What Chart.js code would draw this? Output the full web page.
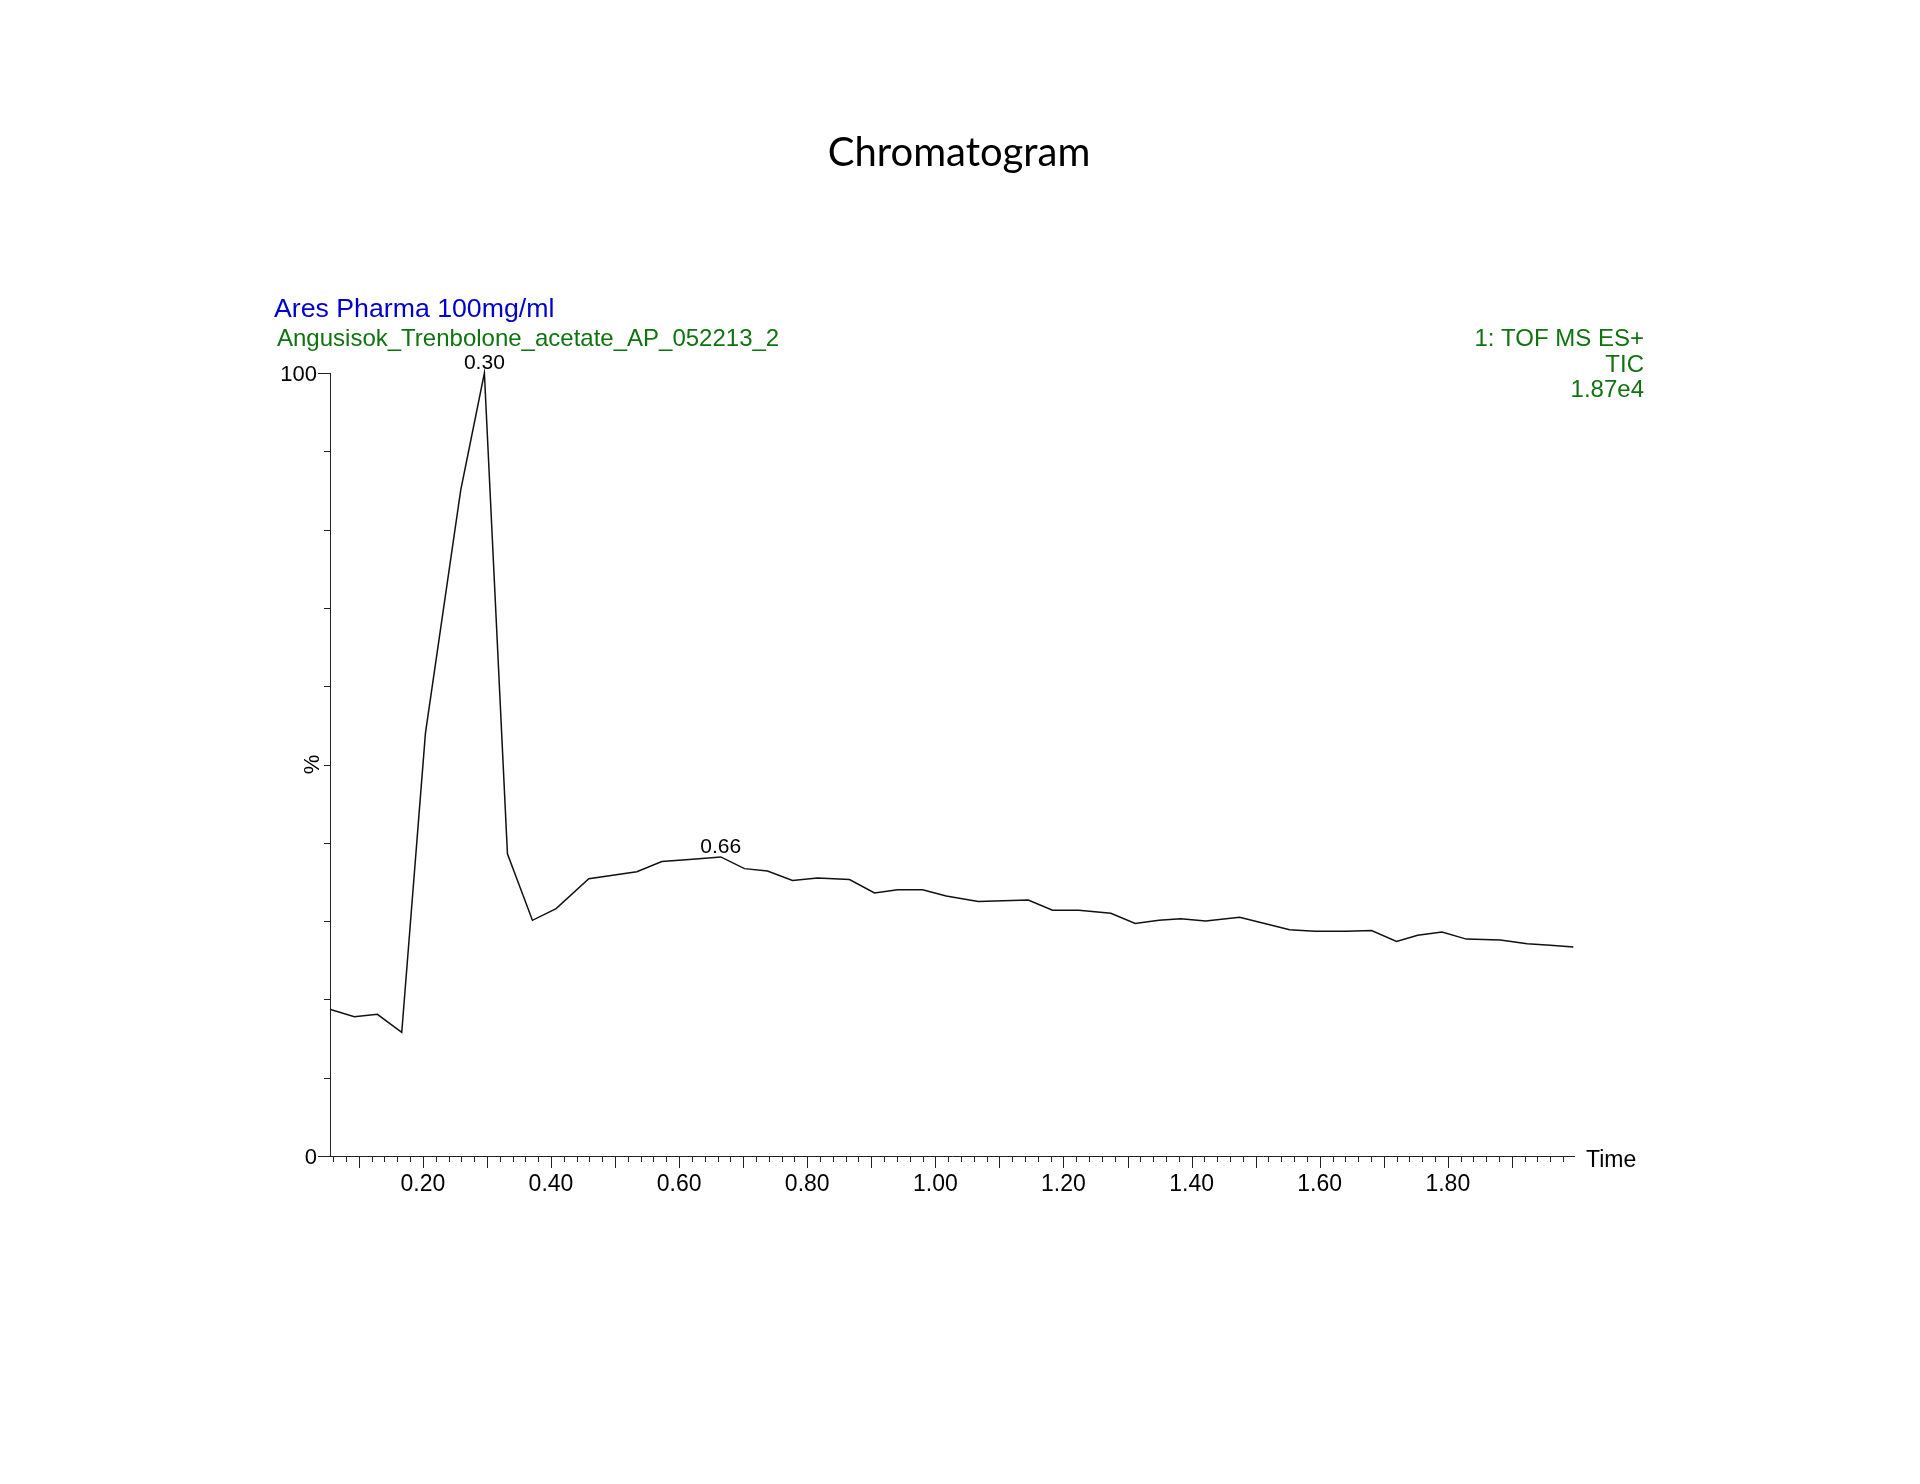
<!DOCTYPE html>
<html>
<head>
<meta charset="utf-8">
<title>Chromatogram</title>
<script src="https://cdn.jsdelivr.net/npm/chart.js@4.4.1/dist/chart.umd.min.js"></script>
<style>
  html, body { margin: 0; padding: 0; background: #fff; }
  #wrap { width: 1920px; height: 1484px; position: relative; }
</style>
</head>
<body>
<div id="wrap"><canvas id="chromChart"></canvas></div>
<script>
// retention time (min) and relative intensity (%)
const times = [
  0.056, 0.093, 0.129, 0.167, 0.204, 0.259, 0.296, 0.332, 0.371, 0.408,
  0.459, 0.534, 0.573, 0.621, 0.665, 0.702, 0.738, 0.777, 0.816, 0.866,
  0.905, 0.941, 0.980, 1.017, 1.067, 1.106, 1.145, 1.183, 1.224, 1.274,
  1.312, 1.349, 1.383, 1.422, 1.475, 1.514, 1.553, 1.592, 1.642, 1.681,
  1.720, 1.753, 1.791, 1.829, 1.882, 1.924, 1.960, 1.996
];
const intensity = [
  18.7, 17.8, 18.1, 15.8, 54.0, 85.0, 100, 38.6, 30.1, 31.6,
  35.4, 36.3, 37.6, 37.9, 38.2, 36.7, 36.4, 35.2, 35.5, 35.3,
  33.6, 34.0, 34.0, 33.2, 32.5, 32.6, 32.7, 31.4, 31.4, 31.0,
  29.7, 30.1, 30.3, 30.0, 30.5, 29.7, 28.9, 28.7, 28.7, 28.8,
  27.4, 28.2, 28.6, 27.7, 27.6, 27.1, 26.9, 26.7
];
// peaks annotated with their apex time
const peakLabels = ['0.30', '0.66'];

const xTickLabels = ['0.20', '0.40', '0.60', '0.80', '1.00', '1.20', '1.40', '1.60', '1.80'];
const yTickLabels = ['0', '100'];

const chartTitle = 'Chromatogram';
const sampleName = 'Ares Pharma 100mg/ml';
const fileName = 'Angusisok_Trenbolone_acetate_AP_052213_2';
const traceInfo = ['1: TOF MS ES+', 'TIC', '1.87e4'];

const FONT = "'Liberation Sans', Arial, sans-serif";
const GREEN = '#0f730f';
const BLUE = '#0000cc';
const AXIS = '#222';

function isMultiple(v, step) {
  const r = v / step;
  return Math.abs(r - Math.round(r)) < 1e-6;
}

// tick marks, axis names, header text and peak labels
const chromaDecor = {
  id: 'chromaDecor',
  afterDraw(chart) {
    const ctx = chart.ctx;
    const area = chart.chartArea;
    const x = chart.scales.x;
    const y = chart.scales.y;
    ctx.save();
    ctx.strokeStyle = AXIS;
    ctx.lineWidth = 1;

    x.ticks.forEach(function (t) {
      const px = Math.round(x.getPixelForValue(t.value)) + 0.5;
      const len = isMultiple(t.value, 0.1) ? 12 : 6;
      ctx.beginPath();
      ctx.moveTo(px, area.bottom);
      ctx.lineTo(px, area.bottom + len);
      ctx.stroke();
    });
    y.ticks.forEach(function (t) {
      const py = Math.round(y.getPixelForValue(t.value)) + 0.5;
      const len = (t.value === 0 || t.value === 100) ? 12 : 6;
      ctx.beginPath();
      ctx.moveTo(area.left, py);
      ctx.lineTo(area.left - len, py);
      ctx.stroke();
    });

    ctx.fillStyle = '#000';
    ctx.font = '23px ' + FONT;
    ctx.textAlign = 'left';
    ctx.textBaseline = 'middle';
    ctx.fillText('Time', area.right + 12, area.bottom + 5);

    ctx.save();
    ctx.font = '22px ' + FONT;
    ctx.translate(area.left - 17, (area.top + area.bottom) / 2);
    ctx.rotate(-Math.PI / 2);
    ctx.textAlign = 'center';
    ctx.fillText('%', 0, 0);
    ctx.restore();

    // peak apex labels
    ctx.font = '21px ' + FONT;
    ctx.textAlign = 'center';
    ctx.textBaseline = 'alphabetic';
    peakLabels.forEach(function (lbl) {
      const tv = parseFloat(lbl);
      let best = -1;
      times.forEach(function (t, i) {
        if (Math.abs(t - tv) <= 0.02 && (best < 0 || intensity[i] > intensity[best])) best = i;
      });
      if (best < 0) return;
      const px = x.getPixelForValue(times[best]);
      const py = y.getPixelForValue(intensity[best]);
      ctx.fillText(lbl, px, py - 4);
    });

    // title and header
    ctx.textBaseline = 'middle';
    ctx.textAlign = 'center';
    ctx.font = "40px Lato, 'Open Sans', sans-serif";
    ctx.fillText(chartTitle, 959, 153);

    ctx.textAlign = 'left';
    ctx.font = '26.7px ' + FONT;
    ctx.fillStyle = BLUE;
    ctx.fillText(sampleName, 274, 309.5);
    ctx.font = '24px ' + FONT;
    ctx.fillStyle = GREEN;
    ctx.fillText(fileName, 277, 339);
    ctx.textAlign = 'right';
    traceInfo.forEach(function (s, i) {
      ctx.fillText(s, 1644, 339.5 + i * 25.5);
    });
    ctx.restore();
  }
};

const points = times.map(function (t, i) { return {x: t, y: intensity[i]}; });

new Chart(document.getElementById('chromChart'), {
  type: 'line',
  data: {
    datasets: [{
      data: points,
      borderColor: '#111',
      borderWidth: 1.5,
      pointRadius: 0,
      tension: 0,
      fill: false,
      clip: false
    }]
  },
  options: {
    responsive: true,
    maintainAspectRatio: false,
    animation: false,
    events: [],
    layout: { padding: { left: 0, right: 346, top: 373, bottom: 0 } },
    plugins: {
      legend: { display: false },
      tooltip: { enabled: false },
      title: { display: false }
    },
    scales: {
      x: {
        type: 'linear',
        bounds: 'data',
        min: 0.055,
        max: 1.997,
        grid: { display: true, drawOnChartArea: false, drawTicks: true, tickLength: 12, color: 'rgba(0,0,0,0)' },
        border: { display: true, color: AXIS, width: 1 },
        ticks: {
          autoSkip: false,
          maxRotation: 0,
          padding: 3,
          color: '#000',
          font: { family: FONT, size: 23 },
          callback: function (v) {
            const s = v.toFixed(2);
            return xTickLabels.indexOf(s) >= 0 && isMultiple(v, 0.2) ? s : '';
          }
        },
        // minor marks every 0.02 min inside the axis range
        afterBuildTicks: function (scale) {
          const list = [];
          for (let k = Math.ceil(scale.min * 50); k <= Math.floor(scale.max * 50); k++) {
            list.push({value: k / 50});
          }
          scale.ticks = list;
        },
        afterFit: function (scale) { scale.height = 328; }
      },
      y: {
        type: 'linear',
        min: 0,
        max: 100,
        grid: { display: true, drawOnChartArea: false, drawTicks: true, tickLength: 12, color: 'rgba(0,0,0,0)' },
        border: { display: true, color: AXIS, width: 1 },
        ticks: {
          stepSize: 10,
          autoSkip: false,
          padding: 1,
          labelOffset: 2,
          color: '#000',
          font: { family: FONT, size: 22 },
          callback: function (v) { return yTickLabels.indexOf(String(v)) >= 0 ? String(v) : ''; }
        },
        afterFit: function (scale) { scale.width = 330; }
      }
    }
  },
  plugins: [chromaDecor]
});
</script>
</body>
</html>
